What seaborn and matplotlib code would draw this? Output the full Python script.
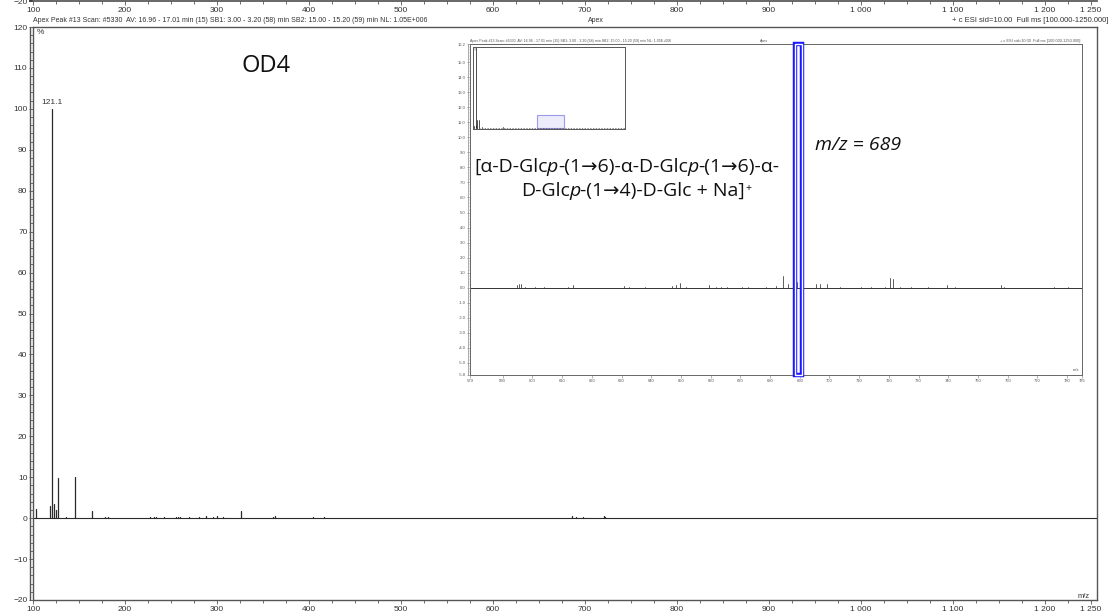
import numpy as np
import pandas as pd
import seaborn as sns
import matplotlib.pyplot as plt
from matplotlib.patches import Rectangle
from matplotlib.lines import Line2D
from matplotlib.text import Annotation
from matplotlib.ticker import MultipleLocator, FixedLocator, FuncFormatter

# full scan, m/z vs relative abundance (%)
mz_full = [103.4, 118.8, 121.1, 122.7, 124.6, 127.5, 136.0, 145.4, 163.8, 178.5,
           181.0, 227.5, 231.0, 234.0, 242.5, 255.0, 258.0, 260.0, 270.0, 280.0,
           288.0, 295.6, 300.5, 306.0, 326.0, 361.0, 363.0, 404.0, 416.0, 596.0,
           650.0, 685.5, 690.3, 697.6, 720.5, 722.0, 740.0]
ab_full = [2.2, 2.9, 100.0, 3.5, 2.0, 9.8, 0.3, 10.1, 1.7, 0.2,
           0.2, 0.2, 0.2, 0.2, 0.2, 0.3, 0.3, 0.2, 0.3, 0.2,
           0.5, 0.2, 0.6, 0.3, 1.8, 0.4, 0.5, 0.2, 0.2, 0.1,
           0.1, 0.6, 0.3, 0.2, 0.5, 0.4, 0.1]

# zoomed region 579-785
mz_zoom = [594.7, 595.5, 596.2, 597.4, 601.0, 604.0, 612.0, 613.6, 631.0, 632.6,
           637.8, 647.0, 648.2, 649.7, 651.6, 659.6, 661.8, 663.5, 665.5, 670.5,
           672.5, 678.6, 682.0, 684.4, 685.9, 689.2, 690.5, 695.4, 696.8, 699.0,
           703.4, 710.7, 714.0, 718.7, 720.5, 721.4, 723.8, 727.5, 733.0, 739.6,
           742.4, 757.8, 758.8, 775.6, 780.3]
ab_zoom = [0.15, 0.25, 0.25, 0.05, 0.03, 0.03, 0.05, 0.15, 0.1, 0.03,
           0.03, 0.1, 0.15, 0.3, 0.08, 0.2, 0.05, 0.03, 0.03, 0.03,
           0.03, 0.03, 0.1, 0.8, 0.25, 0.4, 0.1, 0.25, 0.25, 0.25,
           0.05, 0.05, 0.03, 0.03, 0.65, 0.55, 0.03, 0.03, 0.03, 0.2,
           0.03, 0.15, 0.05, 0.02, 0.02]

main_xticks = [100, 200, 300, 400, 500, 600, 700, 800, 900, 1000, 1100, 1200, 1250]
zoom_xticks = [579] + list(range(590, 790, 10)) + [785]
zoom_yticks = [16.2] + [float(v) for v in range(15, -6, -1)] + [-5.8]

header = ("Apex Peak #13 Scan: #5330  AV: 16.96 - 17.01 min (15) SB1: 3.00 - 3.20 (58) min "
          "SB2: 15.00 - 15.20 (59) min NL: 1.05E+006")
header_r = "+ c ESI sid=10.00  Full ms [100.000-1250.000]"

sns.set_theme(style='white')
plt.rcParams['font.family'] = ['Liberation Sans', 'DejaVu Sans']

W, H = 1111, 614
fig = plt.figure(figsize=(W / 100, H / 100), dpi=100)
fig.patch.set_facecolor('white')


def box(x0, y0, x1, y1):
    return [x0 / W, 1 - y1 / H, (x1 - x0) / W, (y1 - y0) / H]


def fx(x):
    return x / W


def fy(y):
    return 1 - y / H


def sticks(ax, mz, ab, color, lw):
    n = len(mz)
    df = pd.DataFrame({'mz': np.repeat(mz, 2),
                       'ab': np.column_stack([np.zeros(n), ab]).ravel(),
                       'pk': np.repeat(np.arange(n), 2)})
    sns.lineplot(data=df, x='mz', y='ab', units='pk', estimator=None, sort=False,
                 color=color, lw=lw, ax=ax, legend=False)
    ax.set_xlabel('')
    ax.set_ylabel('')


fmt_k = FuncFormatter(lambda v, p: f"{int(round(v)):,}".replace(',', ' '))
txt = '#333333'
edge = '#555555'

# ---- strip of the panel above (only its axis shows)
top = fig.add_axes(box(33, -60, 1097, 1))
top.set_xlim(100, 1256.5)
top.set_ylim(-20, 0)
for s in ['top', 'right', 'left']:
    top.spines[s].set_visible(False)
top.spines['bottom'].set_color(edge)
top.set_xticks(main_xticks)
top.xaxis.set_major_formatter(fmt_k)
top.xaxis.set_minor_locator(MultipleLocator(25))
top.set_yticks([-20])
top.tick_params(axis='x', which='major', bottom=True, length=3, width=0.6, color=edge,
                labelsize=6, labelcolor=txt, pad=1)
top.tick_params(axis='x', which='minor', bottom=True, length=2, width=0.6, color=edge)
top.tick_params(axis='y', left=True, length=3, labelsize=6, labelcolor=txt, pad=1)

# ---- main spectrum
ax = fig.add_axes(box(33, 27, 1097, 600))
ax.set_xlim(100, 1256.5)
ax.set_ylim(-20, 120)
sticks(ax, mz_full, ab_full, '#2a2a2a', 0.9)
ax.axhline(0, color='#2a2a2a', lw=0.8)
for s in ax.spines.values():
    s.set_color(edge)
    s.set_linewidth(1.0)
ax.set_xticks(main_xticks)
ax.xaxis.set_major_formatter(fmt_k)
ax.xaxis.set_minor_locator(MultipleLocator(25))
ax.set_yticks(range(-20, 121, 10))
ax.yaxis.set_minor_locator(MultipleLocator(2))
ax.tick_params(axis='both', which='major', bottom=True, left=True, length=3, width=0.6,
               color=edge, labelsize=6, labelcolor=txt, pad=1)
ax.tick_params(axis='both', which='minor', bottom=True, left=True, length=2, width=0.6,
               color=edge)
fig.add_artist(Line2D([fx(29.5), fx(29.5)], [fy(27), fy(600)], color=edge, lw=1.0))

ax.annotate('121.1', xy=(121.1, 100), xytext=(0, 2), textcoords='offset points',
            ha='center', va='bottom', fontsize=6, color=txt)
fig.text(fx(37), fy(33), '%', fontsize=6, color=txt, ha='left', va='center')
fig.text(fx(1090), fy(596), 'm/z', fontsize=5.5, color=txt, ha='right', va='center')
fig.text(fx(33), fy(20), header, fontsize=5, color=txt, ha='left', va='center')
fig.text(fx(588), fy(20), 'Apex', fontsize=5, color=txt, ha='left', va='center')
fig.text(fx(1108), fy(20), header_r, fontsize=5.5, color=txt, ha='right', va='center')

fig.text(fx(266), fy(66), 'OD4', fontsize=17, color='#111111', ha='center', va='center',
         family=['Open Sans', 'DejaVu Sans'])

# ---- zoomed inset 579-785
ins = fig.add_axes(box(470, 44, 1082, 375))
ins.set_xlim(579, 785)
ins.set_ylim(-5.8, 16.2)
sticks(ins, mz_zoom, ab_zoom, '#444444', 0.6)
ins.axhline(0, color='#333333', lw=0.7)
for s in ins.spines.values():
    s.set_color('#666666')
    s.set_linewidth(0.7)
ins.xaxis.set_major_locator(FixedLocator(zoom_xticks))
ins.xaxis.set_minor_locator(MultipleLocator(2))
ins.yaxis.set_major_locator(FixedLocator(zoom_yticks))
ins.yaxis.set_major_formatter(FuncFormatter(lambda v, p: f"{v:.1f}"))
ins.yaxis.set_minor_locator(MultipleLocator(0.2))
ins.tick_params(axis='both', which='major', bottom=True, left=True, length=2, width=0.4,
                color='#777777', labelsize=3, labelcolor='#555555', pad=1)
ins.tick_params(axis='both', which='minor', bottom=True, left=True, length=1, width=0.3,
                color='#888888')
fig.add_artist(Line2D([fx(467.5), fx(467.5)], [fy(44), fy(375)], color='#888888', lw=0.5))
fig.text(fx(470), fy(41), header, fontsize=2.6, color='#555555', ha='left', va='center')
fig.text(fx(760), fy(41), 'Apex', fontsize=2.6, color='#555555', ha='left', va='center')
fig.text(fx(1080), fy(41), header_r, fontsize=2.8, color='#555555', ha='right', va='center')
fig.text(fx(1079), fy(370), 'm/z', fontsize=3, color='#555555', ha='right', va='center')

# selected ion window
ins.add_patch(Rectangle((688.3, -5.8), 2.6, 22.0, fill=False, ec='#1a1aff', lw=3.2,
                        clip_on=False, zorder=5))
ins.add_patch(Rectangle((688.3, -5.8), 2.6, 22.0, fill=False, ec='white', lw=1.0,
                        clip_on=False, zorder=6))

# thumbnail of the full scan
th = fig.add_axes(box(473, 47, 625, 129))
th.set_xlim(97, 1250)
th.set_ylim(-1, 100)
th.add_patch(Rectangle((579, 0), 206, 16.2, fc='#ececfb', ec='#9a9aee', lw=0.8))
sticks(th, mz_full, ab_full, '#333333', 0.6)
th.axhline(0, color='#555555', lw=0.5, ls=(0, (2, 2)))
th.set_xticks([])
th.set_yticks([])
for s in th.spines.values():
    s.set_color('#555555')
    s.set_linewidth(0.7)
fig.text(fx(474), fy(50), '%', fontsize=2.6, color='#555555', ha='left', va='center')

# ---- annotations
rm = ['Open Sans', 'DejaVu Sans']
fs = 14
ink = '#111111'


def line(x, y, pieces):
    t = fig.text(x, y, pieces[0][0], fontsize=fs, family=rm,
                 style='italic' if pieces[0][1] else 'normal', color=ink,
                 ha='left', va='bottom')
    for s, it in pieces[1:]:
        dx = -0.5 if it else 0
        t = fig.add_artist(Annotation(s, xy=(1, 0), xycoords=t, xytext=(dx, 0),
                                      textcoords='offset points', va='bottom', ha='left',
                                      fontsize=fs, family=rm,
                                      style='italic' if it else 'normal', color=ink))
    return t


line(fx(474), fy(176), [('[α-D-Glc', 0), ('p', 1), ('-(1→6)-α-D-Glc', 0), ('p', 1),
                        ('-(1→6)-α-', 0)])
last = line(fx(521), fy(200), [('D-Glc', 0), ('p', 1), ('-(1→4)-D-Glc + Na]', 0)])
fig.add_artist(Annotation('+', xy=(1, 0.95), xycoords=last, va='top', ha='left',
                          fontsize=7.5, family=rm, color=ink))
fig.text(fx(815), fy(145), 'm/z = 689', fontsize=fs, family=rm, style='italic',
         color=ink, ha='left', va='center')

fig.savefig('out.png', dpi=100, facecolor='white')
